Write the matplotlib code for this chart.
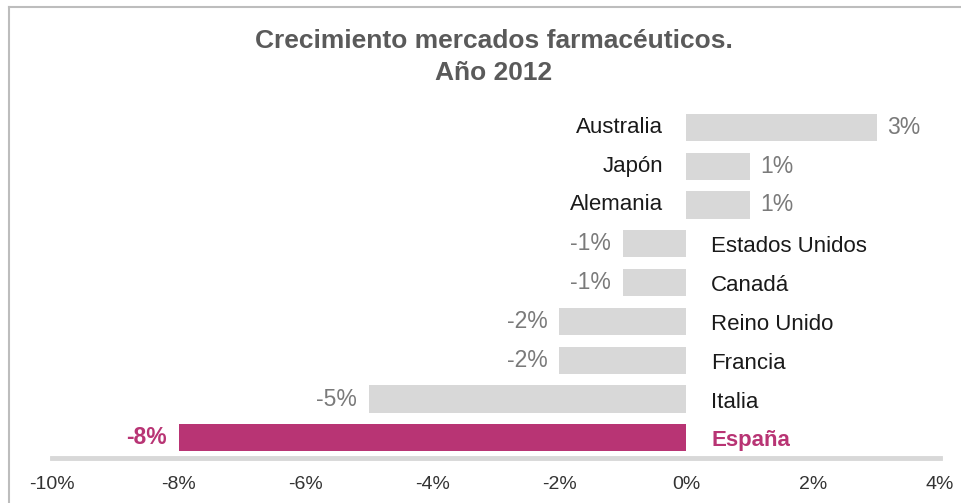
import matplotlib.pyplot as plt
from matplotlib.lines import Line2D

plt.rcParams['font.family'] = ['Liberation Sans', 'DejaVu Sans']

# data (top to bottom)
countries = ['Australia', 'Japón', 'Alemania', 'Estados Unidos', 'Canadá',
             'Reino Unido', 'Francia', 'Italia', 'España']
growth = [3, 1, 1, -1, -1, -2, -2, -5, -8]
value_labels = ['3%', '1%', '1%', '-1%', '-1%', '-2%', '-2%', '-5%', '-8%']
tick_values = [-10, -8, -6, -4, -2, 0, 2, 4]
tick_labels = ['-10%', '-8%', '-6%', '-4%', '-2%', '0%', '2%', '4%']
highlight = 'España'

grey_bar = '#d8d8d8'
pink = '#b83474'

W, H = 961, 503
fig = plt.figure(figsize=(W / 100, H / 100), dpi=100)
# axes: x from 52px to 940px, y from 104px to 458px (top-down)
ax = fig.add_axes([52 / W, (H - 458) / H, 888 / W, 354 / H])

n = len(countries)
ypos = [n - 1 - i for i in range(n)]
colors = [pink if c == highlight else grey_bar for c in countries]
ax.barh(ypos, growth, height=0.7, color=colors, zorder=2)

px = 0.72  # points per pixel
for y, v, c, lab in zip(ypos, growth, countries, value_labels):
    is_hl = c == highlight
    col_val = pink if is_hl else '#7a7a7a'
    col_name = pink if is_hl else '#1a1a1a'
    weight = 'bold' if is_hl else 'normal'
    if v > 0:
        ax.annotate(c, (0, y), xytext=(-23 * px, 0), textcoords='offset points',
                    ha='right', va='center', fontsize=16, color=col_name,
                    fontweight=weight)
        ax.annotate(lab, (v, y), xytext=(11 * px, 0), textcoords='offset points',
                    ha='left', va='center', fontsize=16.5, color=col_val,
                    fontweight=weight)
    else:
        ax.annotate(c, (0, y), xytext=(25 * px, -3 * px), textcoords='offset points',
                    ha='left', va='center', fontsize=16, color=col_name,
                    fontweight=weight)
        ax.annotate(lab, (v, y), xytext=(-12 * px, 0), textcoords='offset points',
                    ha='right', va='center', fontsize=16.5, color=col_val,
                    fontweight=weight)

ax.set_xlim(-10, 4)
ax.set_ylim(-0.52, 8.6)
ax.set_xticks(tick_values)
ax.set_xticklabels(tick_labels, fontsize=14, color='#333333')
ax.set_yticks([])
ax.tick_params(axis='x', length=0, pad=13)
for side in ['top', 'right', 'left']:
    ax.spines[side].set_visible(False)
ax.spines['bottom'].set_color('#d8d8d8')
ax.spines['bottom'].set_linewidth(3.5)

fig.text(494 / W, 1 - 57 / H, 'Crecimiento mercados farmacéuticos.\nAño 2012',
         ha='center', va='center', fontsize=19, fontweight='bold',
         color='#5a5a5a', linespacing=1.42)

# light frame (top and left edges only)
fig.add_artist(Line2D([9 / W, 1], [1 - 6.5 / H, 1 - 6.5 / H],
                      transform=fig.transFigure, color='#bdbdbd', lw=1.5))
fig.add_artist(Line2D([9 / W, 9 / W], [0, 1 - 6.5 / H],
                      transform=fig.transFigure, color='#bdbdbd', lw=1.5))

fig.savefig('out.png', dpi=100)
